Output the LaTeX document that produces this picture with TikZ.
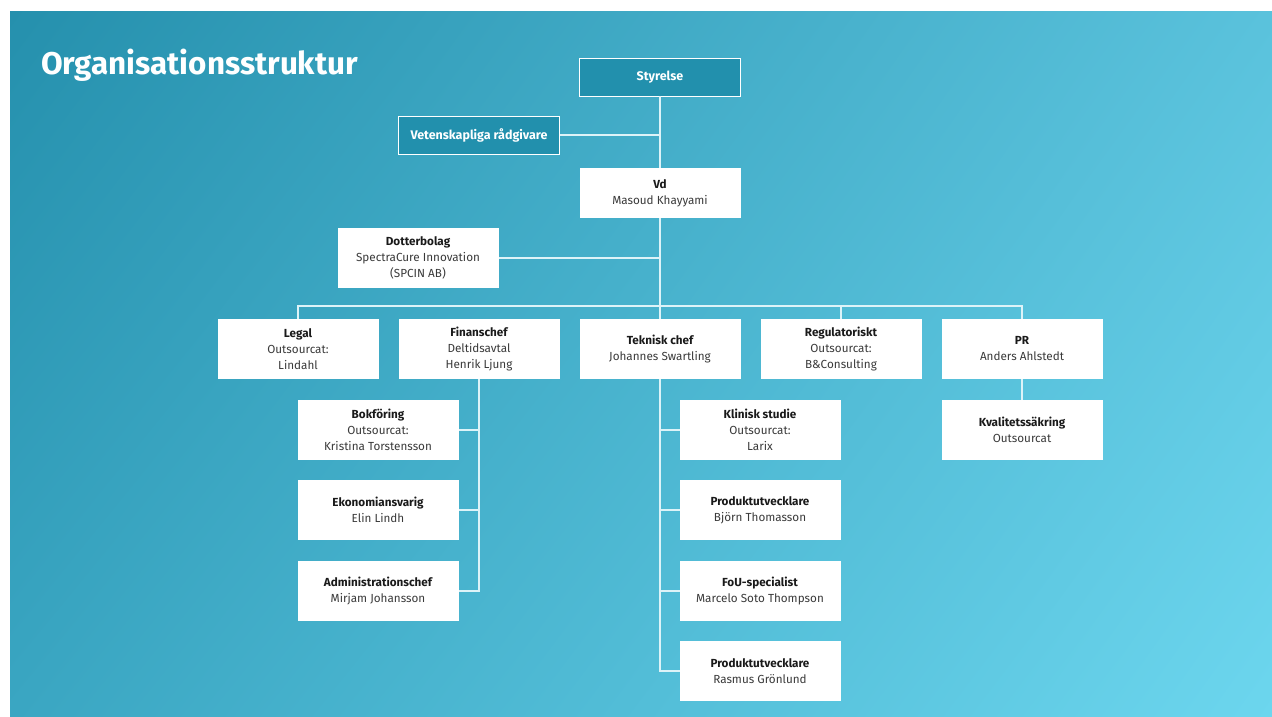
\documentclass[tikz,border=0pt]{standalone}
\usepackage{fontspec}
\setmainfont{Fira Sans}
\usepackage{xcolor}
\usetikzlibrary{shadings}

\definecolor{bgTL}{HTML}{2590AD}
\definecolor{bgTR}{HTML}{5AC2DC}
\definecolor{bgBL}{HTML}{3AA6C2}
\definecolor{bgBR}{HTML}{6CD6EE}
\definecolor{boardfill}{HTML}{2290AD}
\definecolor{roletext}{HTML}{1A1A1A}
\definecolor{nametext}{HTML}{3A3A3A}
\definecolor{linkcol}{HTML}{DDF3F8}

\begin{document}
\begin{tikzpicture}[x=1pt,y=-1pt]
\tikzset{every node/.style={inner sep=0pt,outer sep=0pt}}
\tikzset{orgbox/.style={fill=white,minimum width=161pt,minimum height=60pt,align=center,font=\fontsize{11.7}{16}\selectfont,text=nametext}}
\tikzset{boardbox/.style={draw=white,line width=1pt,fill=boardfill,minimum width=161pt,minimum height=38pt,text=white,font=\fontsize{12.5}{16}\selectfont\bfseries}}
\tikzset{link/.style={draw=linkcol,line width=1.3pt}}

\useasboundingbox (0,0) rectangle (1272,716);
\shade[upper left=bgTL,upper right=bgTR,lower left=bgBL,lower right=bgBR] (10,11) rectangle (1272,716);

\node[anchor=base west,text=white,font=\fontsize{31.4}{36}\selectfont\bfseries] (title) at (41,74) {Organisationsstruktur};

% styrelse och vd
\node[boardbox] (sty) at (660,77) {Styrelse};
\node[boardbox] (vet) at (479,135) {Vetenskapliga rådgivare};
\node[orgbox,minimum height=50pt] (vd) at (660,193) {\textbf{\color{roletext}Vd}\\Masoud Khayyami};
\node[orgbox] (dot) at (418,258) {\textbf{\color{roletext}Dotterbolag}\\SpectraCure Innovation\\(SPCIN AB)};

% chefer
\node[orgbox] (legal) at (298,349) {\textbf{\color{roletext}Legal}\\Outsourcat:\\Lindahl};
\node[orgbox] (fin) at (479,349) {\textbf{\color{roletext}Finanschef}\\Deltidsavtal\\Henrik Ljung};
\node[orgbox] (tek) at (660,349) {\textbf{\color{roletext}Teknisk chef}\\Johannes Swartling};
\node[orgbox] (reg) at (841,349) {\textbf{\color{roletext}Regulatoriskt}\\Outsourcat:\\B\&Consulting};
\node[orgbox] (pr) at (1022,349) {\textbf{\color{roletext}PR}\\Anders Ahlstedt};

% under finanschef
\node[orgbox] (bok) at (378,430) {\textbf{\color{roletext}Bokföring}\\Outsourcat:\\Kristina Torstensson};
\node[orgbox] (eko) at (378,510) {\textbf{\color{roletext}Ekonomiansvarig}\\Elin Lindh};
\node[orgbox] (adm) at (378,591) {\textbf{\color{roletext}Administrationschef}\\Mirjam Johansson};

% under teknisk chef
\node[orgbox] (kli) at (760,430) {\textbf{\color{roletext}Klinisk studie}\\Outsourcat:\\Larix};
\node[orgbox] (pu1) at (760,510) {\textbf{\color{roletext}Produktutvecklare}\\Björn Thomasson};
\node[orgbox] (fou) at (760,591) {\textbf{\color{roletext}FoU-specialist}\\Marcelo Soto Thompson};
\node[orgbox] (pu2) at (760,671) {\textbf{\color{roletext}Produktutvecklare}\\Rasmus Grönlund};

% under PR
\node[orgbox] (kval) at (1022,430) {\textbf{\color{roletext}Kvalitetssäkring}\\Outsourcat};

\coordinate (bus) at (660,306);

\draw[link] (sty) -- (vd);
\draw[link] (vet.east) -- (vet.east -| sty.south);
\draw[link] (dot.east) -- (dot.east -| vd.south);
\draw[link] (vd) -- (tek);
\draw[link] (legal.north) |- (bus) -| (pr.north);
\draw[link] (reg.north) -- (reg.north |- bus);
\draw[link] (fin.south) |- (adm.east);
\draw[link] (bok.east) -- (bok.east -| fin.south);
\draw[link] (eko.east) -- (eko.east -| fin.south);
\draw[link] (tek.south) |- (pu2.west);
\draw[link] (kli.west) -- (kli.west -| tek.south);
\draw[link] (pu1.west) -- (pu1.west -| tek.south);
\draw[link] (fou.west) -- (fou.west -| tek.south);
\draw[link] (pr) -- (kval);

\end{tikzpicture}
\end{document}
